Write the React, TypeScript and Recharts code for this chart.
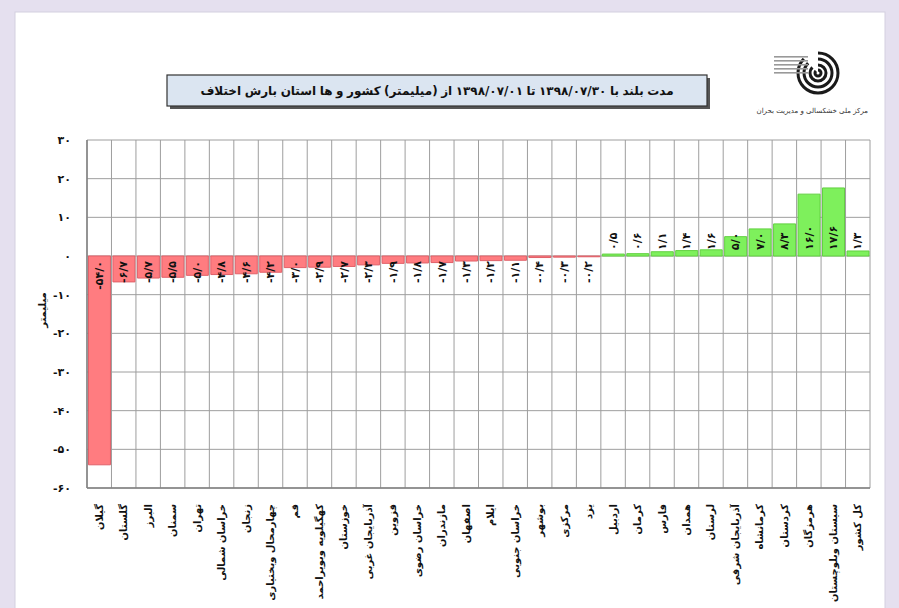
import React from 'react';
import { BarChart, Bar, XAxis, YAxis, CartesianGrid, Cell } from 'recharts';

const categories = [
  'گیلان', 'گلستان', 'البرز', 'سمنان', 'تهران', 'خراسان شمالی', 'زنجان', 'چهارمحال وبختیاری',
  'قم', 'کهگیلویه وبویراحمد', 'خوزستان', 'آذربایجان غربی', 'قزوین', 'خراسان رضوی', 'مازندران', 'اصفهان',
  'ایلام', 'خراسان جنوبی', 'بوشهر', 'مرکزی', 'یزد', 'اردبیل', 'کرمان', 'فارس',
  'همدان', 'لرستان', 'آذربایجان شرقی', 'کرمانشاه', 'کردستان', 'هرمزگان', 'سیستان وبلوچستان', 'کل کشور',
];

const values = [
  -54.0, -6.7, -5.7, -5.5, -5.0, -4.8, -4.6, -4.2,
  -3.0, -2.9, -2.7, -2.3, -1.9, -1.8, -1.7, -1.3,
  -1.2, -1.1, -0.4, -0.3, -0.2, 0.5, 0.6, 1.1,
  1.4, 1.6, 5.0, 7.0, 8.3, 16.0, 17.6, 1.3,
];

const yTicks = [30, 20, 10, 0, -10, -20, -30, -40, -50, -60];

// words are laid out left to right, as in the exported original
const titleWords = [
  'اختلاف', 'بارش', 'استان', 'ها', 'و', 'کشور', '(میلیمتر)', 'از',
  '۱۳۹۸/۰۷/۰۱', 'تا', '۱۳۹۸/۰۷/۳۰', 'با', 'بلند', 'مدت',
];

const FA_FONT = '"DejaVu Sans", sans-serif';

const data = categories.map((name, i) => ({ name, value: values[i] }));

const faDigits = '۰۱۲۳۴۵۶۷۸۹';
const toFa = (s: string) => s.replace(/\d/g, (d) => faDigits[Number(d)]).replace('.', '/');

const CategoryTick = (props: any) => {
  const { x, y, payload } = props;
  return (
    <text
      x={x}
      y={y + 8}
      transform={`rotate(-90 ${x} ${y + 8})`}
      textAnchor="end"
      dominantBaseline="central"
      fontFamily={FA_FONT}
      fontSize={10}
      fontWeight="bold"
      fill="#111"
    >
      {payload.value}
    </text>
  );
};

const ValueLabel = (props: any) => {
  const { x, y, width, height, value } = props;
  const cx = x + width / 2;
  const top = Math.min(y, y + height);
  const bottom = Math.max(y, y + height);
  const neg = value < 0;
  const ay = neg ? top + 5 : bottom - 6;
  return (
    <text
      x={cx}
      y={ay}
      transform={`rotate(-90 ${cx} ${ay})`}
      textAnchor={neg ? 'end' : 'start'}
      dominantBaseline="central"
      fontFamily={FA_FONT}
      fontSize={11}
      fontWeight="bold"
      fill="#111"
    >
      {toFa(Number(value).toFixed(1))}
    </text>
  );
};

const Backdrop = () => (
  <svg width={899} height={608} style={{ position: 'absolute', left: 0, top: 0 }}>
    <rect x={0} y={0} width={899} height={608} fill="#e5e0ef" />
    <rect x={15} y={12} width={870} height={600} fill="#ffffff" stroke="#d4cfe0" />
    {/* title box */}
    <rect x={170} y={78} width={540} height={31} fill="#555" />
    <rect x={167} y={75} width={540} height={31} fill="#dbe5f1" stroke="#333" strokeWidth={1.2} />
    {/* logo */}
    <g fill="none" stroke="#1a1a1a" strokeWidth={3}>
      <circle cx={818} cy={73} r={20} />
      <circle cx={818} cy={73} r={14} />
      <circle cx={818} cy={73} r={8} />
      <circle cx={818} cy={73} r={3} />
    </g>
    <path d="M818 73 L795 50 L818 46 Z" fill="#ffffff" />
    <g fill="#999">
      {[56, 60, 64, 68, 72].map((yy) => (
        <rect key={yy} x={774} y={yy} width={34} height={1.6} />
      ))}
    </g>
    <text x={868} y={113} textAnchor="end" fontFamily={FA_FONT} fontSize={7} fill="#333">
      مرکز ملی خشکسالی و مدیریت بحران
    </text>
    {/* y axis title */}
    <text
      x={42}
      y={310}
      transform="rotate(-90 42 310)"
      textAnchor="middle"
      dominantBaseline="central"
      fontFamily={FA_FONT}
      fontSize={10}
      fontWeight="bold"
      fill="#111"
    >
      میلیمتر
    </text>
  </svg>
);

const Title = () => (
  <div
    dir="ltr"
    style={{
      position: 'absolute',
      left: 167,
      top: 75,
      width: 540,
      height: 31,
      display: 'flex',
      flexDirection: 'row',
      direction: 'ltr',
      alignItems: 'center',
      justifyContent: 'center',
      gap: 3.5,
      fontFamily: FA_FONT,
      fontSize: 12,
      fontWeight: 'bold',
      color: '#111',
      whiteSpace: 'nowrap',
    }}
  >
    {titleWords.map((w, i) => (
      <span key={i} style={{ display: 'inline-block' }}>
        {w}
      </span>
    ))}
  </div>
);

export default function App() {
  const boundaries = ({ offset }: any) =>
    categories
      .map((_, i) => offset.left + (i * offset.width) / categories.length)
      .concat(offset.left + offset.width);

  return (
    <div style={{ position: 'absolute', left: 0, top: 0, width: 899, height: 608, overflow: 'hidden' }}>
      <Backdrop />
      <Title />
      <div style={{ position: 'absolute', left: 0, top: 0 }}>
        <BarChart
          width={899}
          height={608}
          data={data}
          margin={{ top: 140, right: 29, bottom: 10, left: 47 }}
          barCategoryGap="6%"
        >
          <CartesianGrid stroke="#9e9e9e" strokeWidth={1} verticalCoordinatesGenerator={boundaries} />
          <XAxis
            dataKey="name"
            interval={0}
            tick={<CategoryTick />}
            tickLine={false}
            axisLine={{ stroke: '#808080', strokeWidth: 1.5 }}
            height={110}
          />
          <YAxis
            domain={[-60, 30]}
            ticks={yTicks}
            interval={0}
            tickFormatter={(v: number) => toFa(String(v))}
            tick={{ fontFamily: FA_FONT, fontSize: 11, fontWeight: 'bold', fill: '#111' }}
            tickLine={false}
            axisLine={{ stroke: '#808080', strokeWidth: 1.5 }}
            tickMargin={10}
            width={40}
          />
          <Bar dataKey="value" isAnimationActive={false} label={<ValueLabel />}>
            {data.map((d, i) => (
              <Cell
                key={`cell-${i}`}
                fill={d.value < 0 ? '#ff7c80' : '#7ef05c'}
                stroke={d.value < 0 ? '#e06068' : '#62d040'}
                strokeWidth={1}
              />
            ))}
          </Bar>
        </BarChart>
      </div>
    </div>
  );
}
